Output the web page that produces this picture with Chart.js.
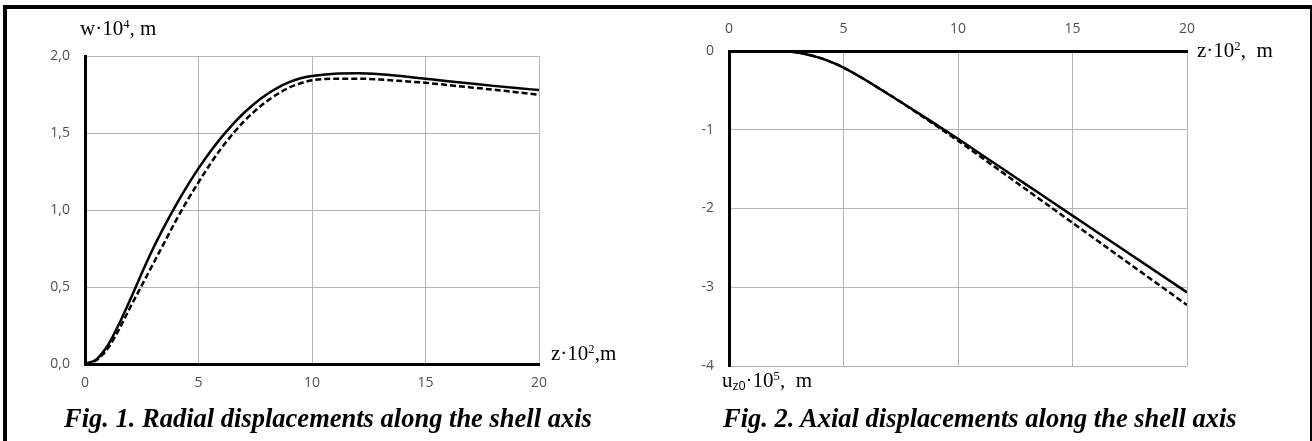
<!DOCTYPE html>
<html>
<head>
<meta charset="utf-8">
<script src="https://cdn.jsdelivr.net/npm/chart.js@4"></script>
<style>
  body { margin: 0; background: #fff; width: 1312px; height: 441px; position: relative; overflow: hidden; }
  .frame { position: absolute; left: 3px; top: 5px; width: 1303px; height: 440px;
           border-top: 4px solid #000; border-left: 4px solid #000; border-right: 2px solid #000; }
  canvas { position: absolute; top: 0; }
  .lbl { position: absolute; font-family: "Liberation Serif", "Times New Roman", serif; font-size: 21px;
         line-height: 21px; color: #000; white-space: nowrap; }
  .lbl sup { font-size: 0.6em; vertical-align: baseline; position: relative; top: -0.55em; }
  .lbl sub { font-size: 0.6em; vertical-align: baseline; position: relative; top: 0.25em; font-family: "Open Sans", sans-serif; }
  .cap { position: absolute; font-family: "Liberation Serif", "Times New Roman", serif; font-size: 26.5px;
         line-height: 26.5px; font-weight: bold; font-style: italic; white-space: nowrap; }
</style>
</head>
<body>
<div class="frame"></div>
<canvas id="fig1" width="656" height="441" style="left:0"></canvas>
<canvas id="fig2" width="656" height="441" style="left:656px"></canvas>

<div class="lbl" style="left:80px; top:18px">w·10<sup>4</sup>, m</div>
<div class="lbl" style="left:551px; top:343px">z·10<sup>2</sup>,m</div>
<div class="lbl" style="left:1197px; top:40px">z·10<sup>2</sup>,&nbsp; m</div>
<div class="lbl" style="left:722px; top:370px">u<sub>z0</sub>·10<sup>5</sup>,&nbsp; m</div>
<div class="cap" style="left:64px; top:405px">Fig. 1. Radial displacements along the shell axis</div>
<div class="cap" style="left:723px; top:405px">Fig. 2. Axial displacements along the shell axis</div>

<script>
// Fig. 1 - radial displacement w*10^4 vs z*10^2
const z1 = [0, 0.5, 1, 1.5, 2, 2.5, 3, 3.5, 4, 4.5, 5, 5.5, 6, 6.5, 7, 7.5, 8, 8.5, 9, 9.5, 10, 11, 12, 13, 14, 15, 16, 17, 18, 19, 20];
const wSolid = [0, 0.03, 0.12, 0.26, 0.42, 0.59, 0.75, 0.895, 1.03, 1.155, 1.27, 1.375, 1.47, 1.555, 1.63, 1.695, 1.75, 1.795, 1.83, 1.855, 1.87, 1.885, 1.888, 1.882, 1.868, 1.852, 1.836, 1.821, 1.806, 1.792, 1.779];
const wDashed = [0, 0.025, 0.1, 0.225, 0.37, 0.51, 0.65, 0.79, 0.93, 1.06, 1.18, 1.295, 1.4, 1.492, 1.575, 1.645, 1.705, 1.755, 1.795, 1.823, 1.843, 1.852, 1.853, 1.847, 1.837, 1.826, 1.811, 1.796, 1.781, 1.765, 1.749];

// Fig. 2 - axial displacement uz0*10^5 vs z*10^2
const z2 = [0, 1, 2, 2.5, 3, 3.5, 4, 4.5, 5, 5.5, 6, 6.5, 7, 7.5, 8, 9, 10, 11, 12, 13, 14, 15, 16, 17, 18, 19, 20];
const uSolid = [0, 0, 0, -0.003, -0.02, -0.05, -0.09, -0.145, -0.21, -0.29, -0.375, -0.465, -0.555, -0.647, -0.74, -0.925, -1.115, -1.31, -1.505, -1.7, -1.895, -2.09, -2.285, -2.48, -2.675, -2.87, -3.065];
const uDashed = [0, 0, 0, -0.003, -0.02, -0.05, -0.09, -0.145, -0.21, -0.29, -0.375, -0.465, -0.555, -0.648, -0.745, -0.94, -1.14, -1.345, -1.554, -1.763, -1.972, -2.181, -2.39, -2.599, -2.808, -3.017, -3.226];

const tickFont = { family: '"Open Sans", sans-serif', size: 14 };
const tickColor = '#505050';
const gridColor = '#b4b4b4';

function pts(xs, ys) {
    return xs.map((x, i) => ({ x: x, y: ys[i] }));
}

function lineSet(xs, ys, dashed) {
    return {
        data: pts(xs, ys),
        borderColor: '#000',
        borderWidth: 2.5,
        borderDash: dashed ? [6, 3] : [],
        pointRadius: 0,
        cubicInterpolationMode: 'monotone',
        fill: false,
    };
}

// Fig. 1
new Chart(document.getElementById('fig1'), {
    type: 'line',
    data: { datasets: [lineSet(z1, wSolid, false), lineSet(z1, wDashed, true)] },
    options: {
        responsive: false,
        animation: false,
        devicePixelRatio: 1,
        layout: { padding: { left: 0, right: 117, top: 56, bottom: 37 } },
        plugins: { legend: { display: false }, tooltip: { enabled: false } },
        scales: {
            x: {
                type: 'linear', min: 0, max: 20,
                afterFit: s => { s.height = 40; },
                ticks: { stepSize: 5, font: tickFont, color: tickColor, padding: 11 },
                grid: { color: gridColor, lineWidth: 1, drawTicks: false },
                border: { color: '#000', width: 3 },
            },
            y: {
                type: 'linear', min: 0, max: 2,
                afterFit: s => { s.width = 85; },
                ticks: { stepSize: 0.5, font: tickFont, color: tickColor, padding: 15,
                         callback: v => v.toFixed(1).replace('.', ',') },
                grid: { color: gridColor, lineWidth: 1, drawTicks: false },
                border: { color: '#000', width: 3 },
            },
        },
    },
});

// Fig. 2
new Chart(document.getElementById('fig2'), {
    type: 'line',
    data: { datasets: [lineSet(z2, uSolid, false), lineSet(z2, uDashed, true)] },
    options: {
        responsive: false,
        animation: false,
        devicePixelRatio: 1,
        layout: { padding: { left: 0, right: 125, top: 11, bottom: 75 } },
        plugins: { legend: { display: false }, tooltip: { enabled: false } },
        scales: {
            x: {
                type: 'linear', position: 'top', min: 0, max: 20,
                afterFit: s => { s.height = 40; },
                ticks: { stepSize: 5, font: tickFont, color: tickColor, padding: 14 },
                grid: { color: gridColor, lineWidth: 1, drawTicks: false },
                border: { color: '#000', width: 3 },
            },
            y: {
                type: 'linear', min: -4, max: 0,
                afterFit: s => { s.width = 73; },
                ticks: { stepSize: 1, font: tickFont, color: tickColor, padding: 15 },
                grid: { color: gridColor, lineWidth: 1, drawTicks: false },
                border: { color: '#000', width: 3 },
            },
        },
    },
});
</script>
</body>
</html>
